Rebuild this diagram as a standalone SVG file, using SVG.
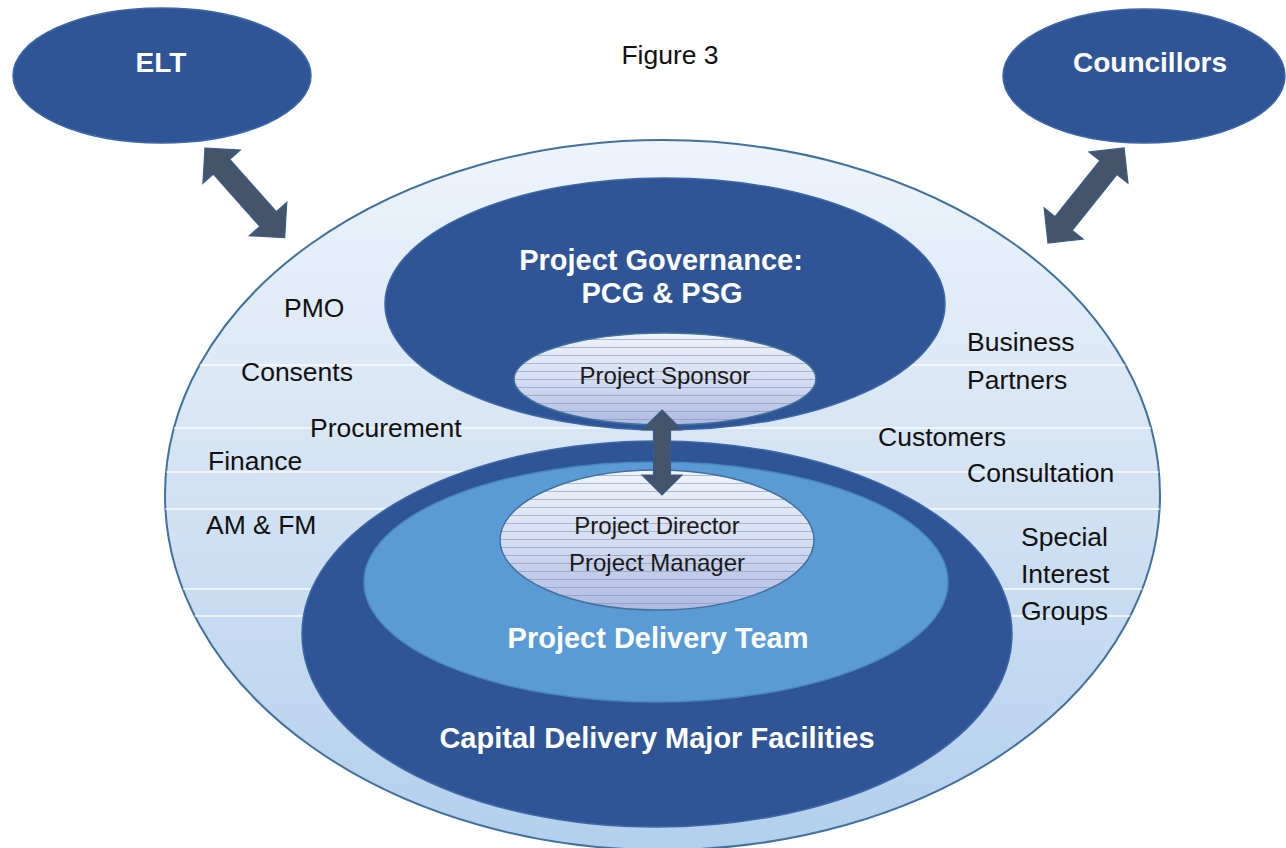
<svg xmlns="http://www.w3.org/2000/svg" width="1286" height="848" viewBox="0 0 1286 848">
<defs>
<linearGradient id="gOuter" x1="0" y1="0" x2="0" y2="1">
<stop offset="0" stop-color="#eef4fb"/>
<stop offset="0.45" stop-color="#d5e4f4"/>
<stop offset="1" stop-color="#b3cfec"/>
</linearGradient>
<linearGradient id="gInner" x1="0" y1="0" x2="0" y2="1">
<stop offset="0" stop-color="#f0f3fa"/>
<stop offset="0.5" stop-color="#d6def1"/>
<stop offset="1" stop-color="#aeb9e0"/>
</linearGradient>
<pattern id="pStripe" x="0" y="0" width="20" height="8" patternUnits="userSpaceOnUse">
<rect x="0" y="3" width="20" height="1" fill="#7f93c4" opacity="0.6"/>
</pattern>
<clipPath id="cOuter"><ellipse cx="662.5" cy="495" rx="497.5" ry="355"/></clipPath>
</defs>
<style>
.dark{fill:#2f5597;stroke:#3d67a8;stroke-width:1.5}
.lbl{font-family:"Liberation Sans",Arial,sans-serif;font-size:26.5px;fill:#111}
.sm{font-family:"Liberation Sans",Arial,sans-serif;font-size:24px;fill:#1a1a1a;text-anchor:middle}
.bw{font-family:"Liberation Sans",Arial,sans-serif;font-weight:bold;font-size:29px;fill:#fff;text-anchor:middle}
.arr{fill:#44546a;stroke:#3b5b88;stroke-width:1.2}
.stripe{stroke:#ffffff;stroke-width:1.5;opacity:0.85}
</style>
<rect width="1286" height="848" fill="#ffffff"/>

<g id="outer">
<ellipse cx="662.5" cy="495" rx="497.5" ry="355" fill="url(#gOuter)" stroke="#41719c" stroke-width="2"/>
<g clip-path="url(#cOuter)">
<line class="stripe" x1="160" y1="365" x2="1170" y2="365"/>
<line class="stripe" x1="160" y1="428" x2="1170" y2="428"/>
<line class="stripe" x1="160" y1="472" x2="1170" y2="472"/>
<line class="stripe" x1="160" y1="509" x2="1170" y2="509"/>
<line class="stripe" x1="160" y1="589" x2="1170" y2="589"/>
<line class="stripe" x1="160" y1="616" x2="1170" y2="616"/>
</g>
<text class="lbl" x="284" y="317">PMO</text>
<text class="lbl" x="241" y="381">Consents</text>
<text class="lbl" x="310" y="437">Procurement</text>
<text class="lbl" x="208" y="470">Finance</text>
<text class="lbl" x="206" y="534">AM &amp; FM</text>
<text class="lbl" x="967" y="351">Business</text>
<text class="lbl" x="967" y="389">Partners</text>
<text class="lbl" x="878" y="446">Customers</text>
<text class="lbl" x="967" y="482">Consultation</text>
<text class="lbl" x="1021" y="546">Special</text>
<text class="lbl" x="1021" y="583">Interest</text>
<text class="lbl" x="1021" y="620">Groups</text>
</g>

<g id="capital">
<ellipse class="dark" cx="657" cy="634" rx="355" ry="193"/>
<text class="bw" x="657" y="748">Capital Delivery Major Facilities</text>
</g>

<g id="delivery-team">
<ellipse cx="656" cy="582" rx="292" ry="120" fill="#5b9bd5" stroke="#4a86c0" stroke-width="1.5"/>
<text class="bw" x="658" y="648">Project Delivery Team</text>
</g>

<g id="director">
<ellipse cx="657" cy="540" rx="157" ry="70" fill="url(#gInner)"/>
<ellipse cx="657" cy="540" rx="157" ry="70" fill="url(#pStripe)" stroke="#41719c" stroke-width="1.5"/>
<text class="sm" x="657" y="534">Project Director</text>
<text class="sm" x="657" y="571">Project Manager</text>
</g>

<g id="governance">
<ellipse class="dark" cx="665" cy="304" rx="280" ry="126"/>
<text class="bw" x="661" y="270">Project Governance:</text>
<text class="bw" x="662" y="303">PCG &amp; PSG</text>
</g>

<g id="sponsor">
<ellipse cx="665" cy="379" rx="151" ry="46" fill="url(#gInner)"/>
<ellipse cx="665" cy="379" rx="151" ry="46" fill="url(#pStripe)" stroke="#41719c" stroke-width="1.5"/>
<text class="sm" x="665" y="384">Project Sponsor</text>
</g>

<g id="elt">
<ellipse class="dark" cx="162" cy="75.5" rx="149" ry="67.5"/>
<text class="bw" x="161" y="72" style="font-size:28px">ELT</text>
</g>

<g id="councillors">
<ellipse class="dark" cx="1144" cy="76" rx="141" ry="67"/>
<text class="bw" x="1150" y="72" style="font-size:28px">Councillors</text>
</g>

<g id="title">
<text class="lbl" x="670" y="64" text-anchor="middle">Figure 3</text>
</g>

<g id="connectors">
<polygon class="arr" transform="translate(205,148) rotate(48.4)" points="0,0 25,-25 25,-11 95,-11 95,-25 120,0 95,25 95,11 25,11 25,25"/>
<polygon class="arr" transform="translate(1048,243) rotate(-51.3)" points="0,0 25,-25 25,-11 96.7,-11 96.7,-25 121.7,0 96.7,25 96.7,11 25,11 25,25"/>
<polygon class="arr" transform="translate(662,410) rotate(90)" points="0,0 20,-20 20,-8.5 65,-8.5 65,-20 85,0 65,20 65,8.5 20,8.5 20,20"/>
</g>
</svg>
